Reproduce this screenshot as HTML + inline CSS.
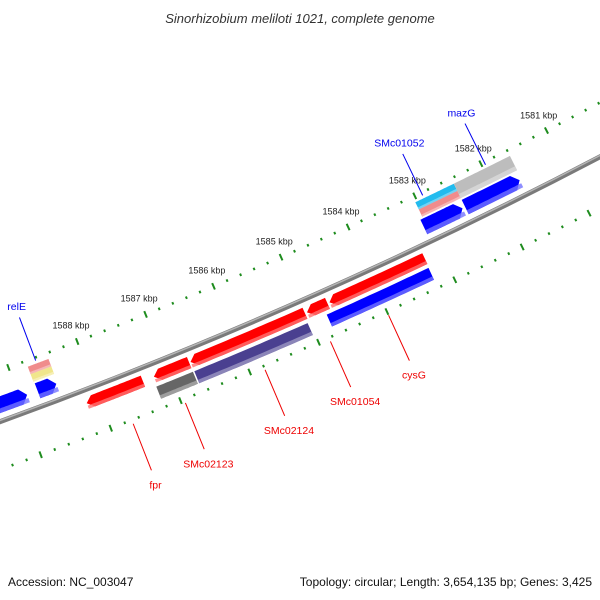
<!DOCTYPE html>
<html><head><meta charset="utf-8"><style>
html,body{margin:0;padding:0;background:#fff;}
svg{display:block;font-family:"Liberation Sans",sans-serif;}
</style></head><body>
<svg id="map" width="600" height="600" viewBox="0 0 600 600">
<text x="300" y="23" text-anchor="middle" font-size="13" font-style="italic" fill="#333">Sinorhizobium meliloti 1021, complete genome</text>
<g id="ticks"></g>
<g id="backbone"></g>
<g id="feats"></g>
<g id="labels"></g>
<text x="8" y="586" font-size="12" fill="#111">Accession: NC_003047</text>
<text x="592" y="586" text-anchor="end" font-size="12" fill="#111">Topology: circular; Length: 3,654,135 bp; Genes: 3,425</text>
</svg>
<script>
// data
const tickLabelsKbp = [1581,1582,1583,1584,1585,1586,1587,1588];
const featNames  = ["fpr","SMc02123","SMc02124","SMc01054","cysG","SMc02123-b","SMc02124-b","cysG-b","blue-a","blue-b","blue-c","blue-d","relE-1","relE-2","SMc01052-1","SMc01052-2","mazG"];
const featStart  = [1588.18,1587.21,1586.68,1584.98,1584.65,1587.23,1586.68,1584.75,1589.6,1588.74,1583.07,1582.45,1588.75,1588.75,1583.03,1583.03,1582.45];
const featEnd    = [1587.37,1586.70,1585.01,1584.68,1583.24,1586.70,1585.03,1583.25,1588.89,1588.47,1582.49,1581.63,1588.45,1588.45,1582.45,1582.45,1581.60];
const featRing   = ["o1","o1","o1","o1","o1","o2","o2","o2","i1","i1","i1","i1","i2a","i2b","i2a","i2b","i2"];
const featArrow  = ["L","L","L","L","L","N","N","N","R","R","R","R","N","N","N","N","N"];
const featColor  = ["#ff0000","#ff0000","#ff0000","#ff0000","#ff0000","#666666","#4a4090","#0000ff","#0000ff","#0000ff","#0000ff","#0000ff","#f08c8c","#f0e68c","#22bbee","#f08c8c","#bdbdbd"];
const labelNames = ["mazG","SMc01052","relE","fpr","SMc02123","SMc02124","SMc01054","cysG"];
const labelKbp   = [1581.95,1582.9,1588.62,1587.7,1586.95,1585.8,1584.85,1584.0];
const labelSide  = ["in","in","in","out","out","out","out","out"];

const NS="http://www.w3.org/2000/svg";
const CX=-1671, CY=-4175, R=4891, DEG=0.87, A0=68.84, K0=1588;
function ang(k){return (A0+(k-K0)*DEG)*Math.PI/180;}
function pt(r,k){const a=ang(k);return [CX+r*Math.cos(a),CY+r*Math.sin(a)];}
function mk(tag,attrs,parent){const e=document.createElementNS(NS,tag);for(const k in attrs)e.setAttribute(k,attrs[k]);parent.appendChild(e);return e;}
const rings={o1:[4898,4910],o2:[4914,4927],i1:[4867,4883],i2:[4849,4865],i2a:[4849,4857],i2b:[4857,4865]};

// ruler
const tg=document.getElementById('ticks');
for(let i=0;i<=55;i++){
  const k=1579.8+i*0.2;const major=Math.abs(k-Math.round(k))<0.01;
  for(const rr of [4843,4936]){
    const h=major?3.5:1.3;
    const p1=pt(rr-h,k),p2=pt(rr+h,k);
    const l=mk('line',{x1:p1[0],y1:p1[1],x2:p2[0],y2:p2[1],stroke:'#1e8c1e','stroke-width':2},tg);
    
    
  }
}
tickLabelsKbp.forEach(k=>{
  const p=pt(4826,k);
  const t=mk('text',{x:p[0],y:p[1]+3,'text-anchor':'middle','font-size':'9',fill:'#222'},tg);
  t.textContent=k+' kbp';
  
  
});

// backbone
const bg=document.getElementById('backbone');
function arcPath(r,k1,k2){const p1=pt(r,k1),p2=pt(r,k2);return `M${p1[0]},${p1[1]} A${r},${r} 0 0 1 ${p2[0]},${p2[1]}`;}
const bb=mk('path',{d:arcPath(R,1579,1590),stroke:'#7a7a7a','stroke-width':5,fill:'none'},bg);


const bb2=mk('path',{d:arcPath(R-1.2,1579,1590),stroke:'#b5b5b5','stroke-width':1.5,fill:'none'},bg);



// features
const fg=document.getElementById('feats');
function shape(s,e,r1,r2,arrow){
  const ah=0.09,n=24,pts=[];
  let bs=s,be=e;
  if(arrow==='R')be=e+ah;
  if(arrow==='L')bs=s-ah;
  for(let i=0;i<=n;i++){pts.push(pt(r2,bs+(be-bs)*i/n));}
  if(arrow==='R')pts.push(pt((r1+r2)/2,e));
  for(let i=n;i>=0;i--){pts.push(pt(r1,bs+(be-bs)*i/n));}
  if(arrow==='L')pts.push(pt((r1+r2)/2,s));
  return pts.map(p=>p[0].toFixed(1)+','+p[1].toFixed(1)).join(' ');
}
function lighten(c){const n=parseInt(c.slice(1),16);let r=n>>16,g=(n>>8)&255,b=n&255;r=Math.round(r+(255-r)*0.45);g=Math.round(g+(255-g)*0.45);b=Math.round(b+(255-b)*0.45);return `rgb(${r},${g},${b})`;}
featNames.forEach((nm,i)=>{
  const rg=rings[featRing[i]];
  const g=mk('g',{},fg);
  
  
  mk('polygon',{points:shape(featStart[i],featEnd[i],rg[0],rg[1],featArrow[i]),fill:featColor[i]},g);
  const rl=rg[1]-(rg[1]-rg[0])*0.28;
  mk('polygon',{points:shape(featStart[i],featEnd[i],rl,rg[1],'N'),fill:lighten(featColor[i]),opacity:0.8},g);
});

// labels
const lg=document.getElementById('labels');
labelNames.forEach((nm,i)=>{
  const col=labelSide[i]==='in'?'#0000ee':'#ee0000';
  let ra,rb,rt;
  if(labelSide[i]==='in'){ra=4846;rb=4800;rt=4792;}else{ra=4940;rb=4990;rt=5001;}
  const p1=pt(ra,labelKbp[i]),p2=pt(rb,labelKbp[i]),pt3=pt(rt,labelKbp[i]);
  const l=mk('line',{x1:p1[0],y1:p1[1],x2:p2[0],y2:p2[1],stroke:col,'stroke-width':1},lg);
  
  
  const t=mk('text',{x:pt3[0],y:pt3[1]+(labelSide[i]==='in'?0:8),'text-anchor':'middle','font-size':'10.5',fill:col},lg);
  t.textContent=nm;
  
  
});
</script>
</body></html>
